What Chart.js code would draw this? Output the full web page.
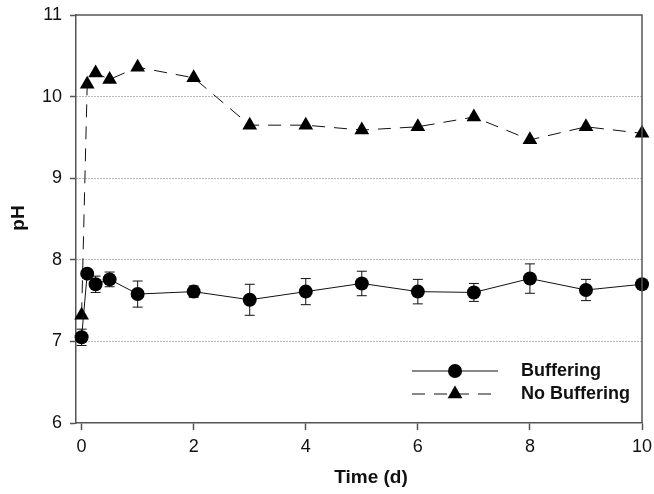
<!DOCTYPE html>
<html lang="en">
<head>
    <meta charset="UTF-8">
    <title>pH vs Time</title>
    <script src="https://cdn.jsdelivr.net/npm/chart.js"></script>
    <style>
        body { margin: 0; background: #fff; }
        #wrap { width: 654px; height: 494px; }
    </style>
</head>
<body>
    <div id="wrap">
        <canvas id="phChart" width="654" height="494"></canvas>
    </div>

    <script>
        // dados
        const days = [0, 0.1, 0.25, 0.5, 1, 2, 3, 4, 5, 6, 7, 8, 9, 10];
        const phBuffering = [7.05, 7.83, 7.70, 7.76, 7.58, 7.61, 7.51, 7.61, 7.71, 7.61, 7.60, 7.77, 7.63, 7.70];
        const errBuffering = [0.10, 0.05, 0.10, 0.09, 0.16, 0.07, 0.19, 0.16, 0.15, 0.15, 0.11, 0.18, 0.13, 0.05];
        const phNoBuffering = [7.32, 10.15, 10.29, 10.21, 10.36, 10.23, 9.65, 9.65, 9.59, 9.63, 9.75, 9.47, 9.63, 9.55];
        const xTicks = [0, 2, 4, 6, 8, 10];
        const yTicks = [6, 7, 8, 9, 10, 11];
        const seriesNames = ['Buffering', 'No Buffering'];
        const xTitle = 'Time (d)';
        const yTitle = 'pH';

        const axisColor = '#555';
        const ink = '#111';
        const fontFamily = '"Liberation Sans", Arial, sans-serif';

        function toPoints(xs, ys) {
            return xs.map((x, i) => ({ x: x, y: ys[i] }));
        }

        // barras de erro desenhadas antes dos pontos
        const errorBars = {
            id: 'errorBars',
            beforeDatasetDraw(chart, args) {
                if (args.index !== 0) return;
                const { ctx, scales: { x, y } } = chart;
                ctx.save();
                ctx.strokeStyle = ink;
                ctx.lineWidth = 1;
                days.forEach((d, i) => {
                    const px = x.getPixelForValue(d);
                    const top = y.getPixelForValue(phBuffering[i] + errBuffering[i]);
                    const bot = y.getPixelForValue(phBuffering[i] - errBuffering[i]);
                    ctx.beginPath();
                    ctx.moveTo(px, top); ctx.lineTo(px, bot);
                    ctx.moveTo(px - 5, top); ctx.lineTo(px + 5, top);
                    ctx.moveTo(px - 5, bot); ctx.lineTo(px + 5, bot);
                    ctx.stroke();
                });
                ctx.restore();
            }
        };

        // moldura (topo e direita), títulos dos eixos e legenda
        const frameAndLegend = {
            id: 'frameAndLegend',
            afterDraw(chart) {
                const { ctx, chartArea: a } = chart;
                ctx.save();
                ctx.strokeStyle = axisColor;
                ctx.lineWidth = 1.5;
                ctx.beginPath();
                ctx.moveTo(a.left, a.top); ctx.lineTo(a.right, a.top); ctx.lineTo(a.right, a.bottom);
                ctx.stroke();

                // títulos
                ctx.fillStyle = ink;
                ctx.font = 'bold 19px ' + fontFamily;
                ctx.textAlign = 'center';
                ctx.textBaseline = 'middle';
                ctx.fillText(xTitle, 371, 478);
                ctx.save();
                ctx.translate(19, 218);
                ctx.rotate(-Math.PI / 2);
                ctx.fillText(yTitle, 0, 0);
                ctx.restore();

                // legenda
                const rows = [
                    { y: 371, dash: [], style: 'circle', r: 7 },
                    { y: 394, dash: [13, 9], style: 'triangle', r: 8.5 }
                ];
                ctx.font = 'bold 18px ' + fontFamily;
                ctx.textAlign = 'left';
                rows.forEach((row, i) => {
                    ctx.strokeStyle = ink;
                    ctx.lineWidth = 1;
                    ctx.setLineDash(row.dash);
                    ctx.beginPath();
                    ctx.moveTo(412, row.y); ctx.lineTo(498, row.y);
                    ctx.stroke();
                    ctx.setLineDash([]);
                    ctx.fillStyle = '#000';
                    Chart.helpers.drawPoint(ctx, { pointStyle: row.style, radius: row.r, borderWidth: 0 }, 455, row.y);
                    ctx.fillStyle = ink;
                    ctx.fillText(seriesNames[i], 521, row.y);
                });
                ctx.restore();
            }
        };

        const ctx = document.getElementById('phChart').getContext('2d');
        new Chart(ctx, {
            type: 'line',
            data: {
                datasets: [{
                    label: seriesNames[0],
                    data: toPoints(days, phBuffering),
                    borderColor: ink,
                    borderWidth: 1,
                    backgroundColor: '#000',
                    pointStyle: 'circle',
                    pointRadius: 7,
                    pointBorderWidth: 0,
                    clip: false,
                    order: 0
                }, {
                    label: seriesNames[1],
                    data: toPoints(days, phNoBuffering),
                    borderColor: ink,
                    borderWidth: 1,
                    borderDash: [13, 9],
                    backgroundColor: '#000',
                    pointStyle: 'triangle',
                    pointRadius: 8.5,
                    pointBorderWidth: 0,
                    clip: false,
                    order: 1
                }]
            },
            options: {
                responsive: false,
                animation: false,
                events: [],
                layout: { padding: { left: 0, top: 15, right: 12, bottom: 0 } },
                scales: {
                    x: {
                        type: 'linear',
                        min: -0.1,
                        max: 10,
                        afterFit: s => { s.height = 71; s.paddingLeft = 0; s.paddingRight = 0; },
                        afterBuildTicks: s => { s.ticks = xTicks.map(v => ({ value: v })); },
                        ticks: {
                            includeBounds: false,
                            padding: 6,
                            color: ink,
                            font: { family: fontFamily, size: 18 }
                        },
                        grid: { drawOnChartArea: false, tickLength: 7, tickColor: axisColor, tickWidth: 1.5 },
                        border: { color: axisColor, width: 1.5 }
                    },
                    y: {
                        min: 6,
                        max: 11,
                        afterFit: s => { s.width = 76; s.paddingTop = 0; s.paddingBottom = 0; },
                        afterBuildTicks: s => { s.ticks = yTicks.map(v => ({ value: v })); },
                        ticks: {
                            padding: 8,
                            color: ink,
                            font: { family: fontFamily, size: 18 }
                        },
                        grid: {
                            color: c => (c.tick && c.tick.value > 6 && c.tick.value < 11) ? '#777' : 'rgba(0,0,0,0)',
                            lineWidth: 1,
                            tickLength: 6,
                            tickColor: axisColor,
                            tickWidth: 1.5,
                            tickBorderDash: []
                        },
                        border: { color: axisColor, width: 1.5, dash: [1, 2] }
                    }
                },
                plugins: {
                    legend: { display: false },
                    tooltip: { enabled: false }
                }
            },
            plugins: [errorBars, frameAndLegend]
        });
    </script>
</body>
</html>
